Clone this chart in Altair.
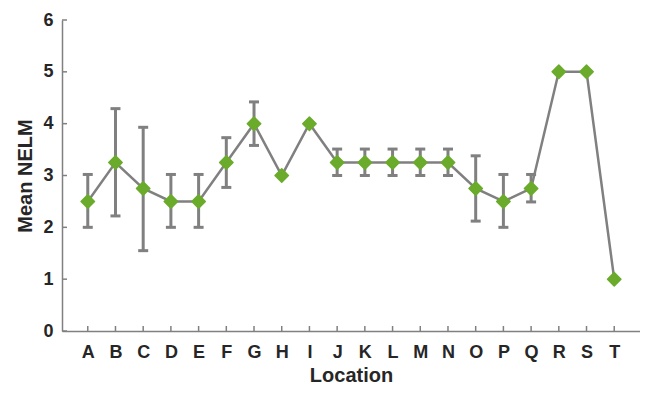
import altair as alt
import pandas as pd

locations = list("ABCDEFGHIJKLMNOPQRST")
means = [2.5, 3.25, 2.75, 2.5, 2.5, 3.25, 4.0, 3.0, 4.0, 3.25, 3.25, 3.25, 3.25, 3.25, 2.75, 2.5, 2.75, 5.0, 5.0, 1.0]
err_lo = [2.0, 2.22, 1.55, 2.0, 2.0, 2.77, 3.58, None, None, 3.0, 3.0, 3.0, 3.0, 3.0, 2.12, 2.0, 2.49, None, None, None]
err_hi = [3.02, 4.29, 3.93, 3.02, 3.02, 3.73, 4.42, None, None, 3.51, 3.51, 3.51, 3.51, 3.51, 3.38, 3.02, 3.02, None, None, None]
y_ticks = [0, 1, 2, 3, 4, 5, 6]

df = pd.DataFrame({"Location": locations, "Mean": means, "lo": err_lo, "hi": err_hi})
err = df.dropna()
yt = pd.DataFrame({"v": y_ticks})

W, H = 578, 311
GRAY = "#808080"
FONT = "Liberation Sans"

xs = alt.X("Location:N", sort=locations,
           scale=alt.Scale(type="point", padding=0.93),
           axis=alt.Axis(title="Location", labelAngle=0, tickSize=0, labelPadding=12,
                         titlePadding=4, domainColor=GRAY, domainWidth=1.5))
ys = alt.Y("Mean:Q", scale=alt.Scale(domain=[0, 6], nice=False, zero=True),
           axis=alt.Axis(title="Mean NELM", values=y_ticks, tickSize=0, labelPadding=9,
                         titlePadding=7, domainColor=GRAY, domainWidth=1.5, grid=False))

base = alt.Chart(df)

line = base.mark_line(color=GRAY, strokeWidth=2.5).encode(x=xs, y=ys)

bars = alt.Chart(err).mark_rule(color=GRAY, strokeWidth=3).encode(
    x=alt.X("Location:N", sort=locations), y=alt.Y("lo:Q"), y2="hi:Q")
cap_lo = alt.Chart(err).mark_tick(color=GRAY, thickness=3, size=10, opacity=1).encode(
    x=alt.X("Location:N", sort=locations), y=alt.Y("lo:Q"))
cap_hi = alt.Chart(err).mark_tick(color=GRAY, thickness=3, size=10, opacity=1).encode(
    x=alt.X("Location:N", sort=locations), y=alt.Y("hi:Q"))

pts = base.mark_point(shape="diamond", filled=True, size=180, color="#6aab2b", opacity=1,
                      stroke="#6aab2b", strokeWidth=1.5, strokeJoin="round").encode(
    x=alt.X("Location:N", sort=locations), y="Mean:Q")

xticks = base.mark_rule(color=GRAY, strokeWidth=1.5).encode(
    x=alt.X("Location:N", sort=locations), y=alt.value(H), y2=alt.value(H - 5))
yticks = alt.Chart(yt).mark_rule(color=GRAY, strokeWidth=1.5).encode(
    y=alt.Y("v:Q"), x=alt.value(0), x2=alt.value(5))

chart = alt.layer(line, bars, cap_lo, cap_hi, pts, xticks, yticks).properties(
    width=W, height=H,
    autosize=alt.AutoSizeParams(type="none"),
    padding={"left": 54, "top": 12, "right": 0, "bottom": 55},
).configure_view(stroke=None).configure_axis(
    labelFont=FONT, titleFont=FONT, labelFontSize=18, titleFontSize=20,
    labelFontWeight="bold", titleFontWeight="bold",
    labelColor="#262626", titleColor="#262626",
)

chart.save("out.html", embed_options={"renderer": "svg", "actions": False})
